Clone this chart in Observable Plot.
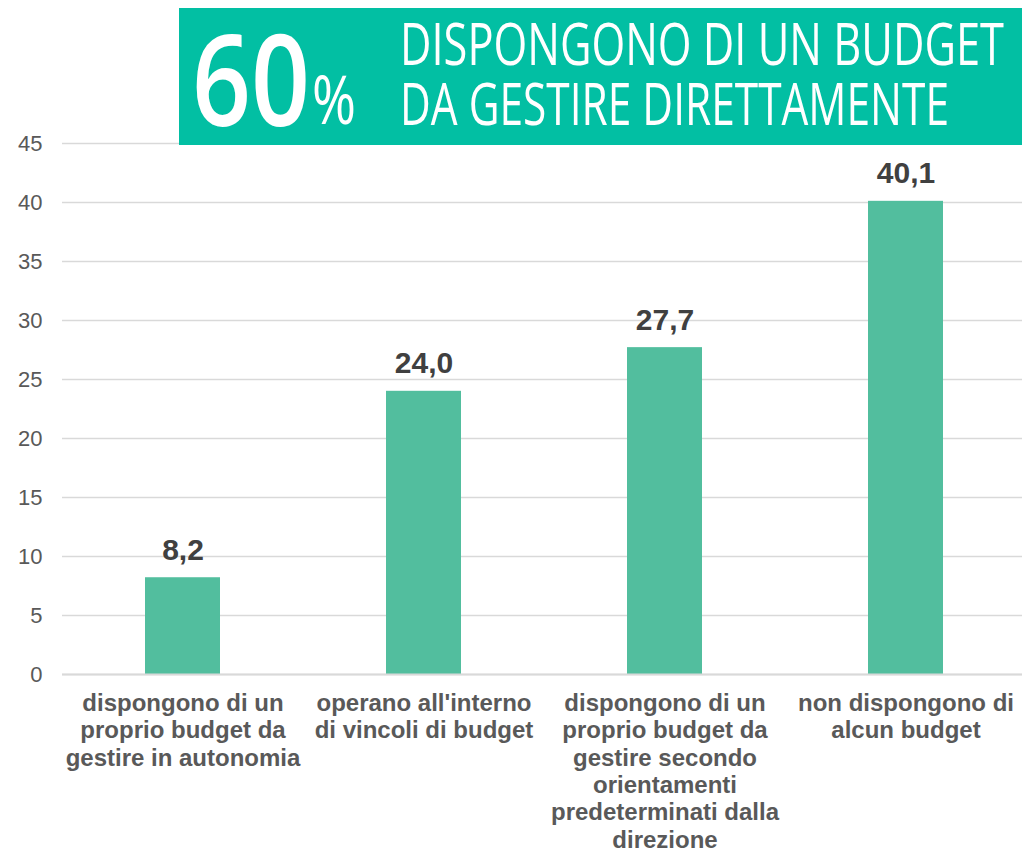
<!DOCTYPE html>
<html>
<head>
<meta charset="utf-8">
<script src="https://cdn.jsdelivr.net/npm/d3@7"></script>
<script src="https://cdn.jsdelivr.net/npm/@observablehq/plot@0.6"></script>
<style>
  html, body { margin: 0; padding: 0; background: #fff; }
  #wrap { position: relative; width: 1022px; height: 849px; overflow: hidden; }
  #banner { position: absolute; left: 0; top: 0; }
</style>
</head>
<body>
<div id="wrap"></div>
<script>
// ---- data ----
const categories = [
  "dispongono di un\nproprio budget da\ngestire in autonomia",
  "operano all'interno\ndi vincoli di budget",
  "dispongono di un\nproprio budget da\ngestire secondo\norientamenti\npredeterminati dalla\ndirezione",
  "non dispongono di\nalcun budget"
];
const values = [8.2, 24.0, 27.7, 40.1];
const valueLabels = ["8,2", "24,0", "27,7", "40,1"];
const yTicks = [0, 5, 10, 15, 20, 25, 30, 35, 40, 45];
const bannerBig = "60";
const bannerPct = "%";
const bannerLines = ["DISPONGONO DI UN BUDGET", "DA GESTIRE DIRETTAMENTE"];

const data = categories.map((c, i) => ({cat: c, value: values[i], label: valueLabels[i]}));

const chart = Plot.plot({
  width: 1022,
  height: 849,
  marginTop: 143,
  marginBottom: 175,
  marginLeft: 62,
  marginRight: 0,
  style: {fontFamily: "'Liberation Sans', Arial, sans-serif", background: "#fff"},
  x: {domain: categories, range: [62, 1026], paddingInner: 0.69, paddingOuter: 0.345, axis: null},
  y: {domain: [0, 45], axis: null},
  marks: [
    Plot.ruleY(yTicks, {stroke: "#d9d9d9", strokeWidth: 1.3}),
    Plot.axisY(yTicks, {tickSize: 0, tickPadding: 20, fontSize: 22, color: "#595959", label: null}),
    Plot.barY(data, {x: "cat", y: "value", fill: "#52be9e"}),
    Plot.ruleY([0], {stroke: "#d9d9d9", strokeWidth: 2}),
    Plot.text(data, {x: "cat", y: "value", text: "label", lineAnchor: "bottom", dy: -18,
      fontSize: 30, fontWeight: "bold", fill: "#404040"}),
    Plot.text(data, {x: "cat", y: 0, text: "cat", lineAnchor: "top", dy: 17, lineHeight: 1.14,
      fontSize: 24, fontWeight: "bold", fill: "#595959", textAnchor: "middle"})
  ]
});
document.getElementById("wrap").appendChild(chart);

// ---- banner ----
const ns = "http://www.w3.org/2000/svg";
const b = document.createElementNS(ns, "svg");
b.setAttribute("id", "banner");
b.setAttribute("width", 1022);
b.setAttribute("height", 150);
const rect = document.createElementNS(ns, "rect");
rect.setAttribute("x", 179); rect.setAttribute("y", 8);
rect.setAttribute("width", 843); rect.setAttribute("height", 137);
rect.setAttribute("fill", "#02bfa3");
b.appendChild(rect);
function addText(str, x, y, size, weight, len) {
  const t = document.createElementNS(ns, "text");
  t.setAttribute("x", x); t.setAttribute("y", y);
  t.setAttribute("fill", "#fff");
  t.setAttribute("font-family", "'Open Sans', sans-serif");
  t.setAttribute("font-size", size);
  t.setAttribute("font-weight", weight);
  t.setAttribute("textLength", len);
  t.setAttribute("lengthAdjust", "spacingAndGlyphs");
  t.textContent = str;
  b.appendChild(t);
}
addText(bannerBig, 192, 126, 126, 600, 118);
addText(bannerPct, 312, 124, 68, 400, 44);
addText(bannerLines[0], 400, 65, 59, 400, 604);
addText(bannerLines[1], 400, 125, 59, 400, 549);
document.getElementById("wrap").appendChild(b);
</script>
</body>
</html>
